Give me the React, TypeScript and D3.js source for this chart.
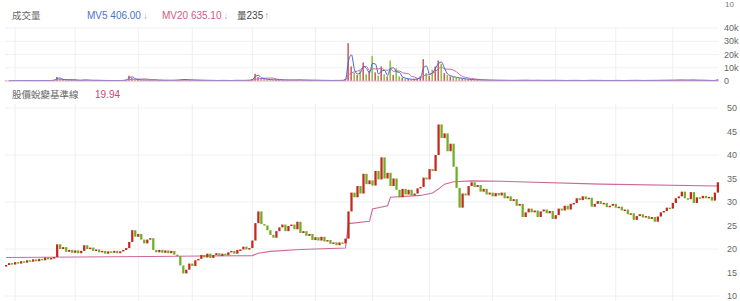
import React from "react";
import * as d3 from "d3";

const closes = [
  16.6, 17.0, 16.7, 17.2, 16.9, 17.4, 17.1, 17.6, 17.3, 17.8, 17.4, 17.9, 17.6, 18.2, 17.8, 18.1,
  18.3, 21.0, 20.0, 20.4, 19.4, 19.8, 19.2, 19.7, 19.1, 19.6, 20.8, 20.0, 20.3, 19.6,
  19.9, 19.3, 19.6, 19.0, 19.5, 19.2, 19.6, 19.1, 19.5, 19.8, 20.2, 21.5, 24.0, 22.6, 23.2, 22.0, 21.2, 22.0, 22.3, 19.8,
  19.3, 19.8, 19.2, 19.7, 19.1, 19.6, 18.8, 18.5, 16.5, 14.8, 15.6, 16.9, 16.4, 17.6, 17.9, 18.7, 18.2, 19.0, 18.1, 18.7,
  19.1, 18.5, 19.0, 18.7, 19.3, 19.6, 19.0, 19.8, 19.9, 20.5, 19.9, 20.2, 21.8, 25.5, 28.0, 25.3, 25.0, 24.0, 23.0, 22.4,
  23.8, 24.6, 25.2, 23.8, 24.9, 25.2, 24.2, 25.8, 23.4, 23.8, 22.8, 23.2, 21.9, 22.5, 21.8, 22.6, 21.6, 21.9, 21.1, 21.4,
  20.8, 21.4, 21.2, 22.2, 28.0, 32.0, 31.0, 33.4, 31.8, 36.0, 33.8, 34.6, 33.5, 36.6, 34.8, 39.5, 35.0, 36.2, 33.4, 35.0,
  32.6, 31.0, 32.8, 31.6, 32.6, 31.4, 31.8, 32.9, 33.2, 35.2, 34.8, 37.0, 36.6, 40.0, 46.5, 43.6, 44.6, 40.8, 42.4, 37.5,
  33.0, 28.8, 31.8, 31.4, 33.4, 34.2, 33.2, 33.6, 32.2, 32.8, 31.6, 32.0, 31.2, 31.9, 31.4, 32.0, 30.8, 31.2, 30.2, 30.6,
  29.2, 29.6, 26.8, 27.8, 28.6, 27.8, 28.2, 26.8, 28.0, 28.4, 27.6, 28.1, 26.4, 27.2, 28.6, 28.2, 29.2, 28.4, 29.6, 29.8,
  30.8, 30.4, 31.2, 30.6, 30.9, 29.0, 29.6, 30.2, 29.6, 29.8, 28.9, 29.2, 29.6, 28.8, 29.0, 28.2, 28.4, 27.4, 27.6, 26.2,
  27.0, 27.4, 26.7, 27.0, 26.4, 26.8, 25.8, 26.9, 27.8, 28.1, 28.8, 28.6, 29.8, 30.8, 31.2, 32.2, 30.8, 30.6, 32.1, 29.8,
  31.0, 30.8, 31.3, 30.8, 31.1, 30.3, 32.0, 34.2,
];

const volumes = [
  300, 250, 400, 350, 300, 450, 300, 350, 400, 300, 350, 300, 400, 350, 300, 450, 800, 3000, 1500, 900,
  700, 500, 600, 400, 500, 450, 900, 600, 500, 400, 450, 350, 400, 300, 350, 400, 300, 450, 350, 500,
  900, 4000, 2200, 1200, 900, 700, 800, 600, 700, 900, 600, 500, 450, 400, 500, 450, 600, 700, 900, 1200,
  900, 700, 600, 500, 450, 400, 500, 400, 450, 400, 350, 400, 450, 400, 350, 400, 450, 500, 400, 450,
  500, 600, 1500, 5500, 3000, 2000, 1500, 1200, 1000, 800, 900, 800, 700, 600, 650, 700, 600, 800, 700, 600,
  550, 500, 450, 500, 450, 400, 450, 400, 350, 400, 450, 400, 500, 1500, 28500, 11000, 6000, 4500, 8000, 14000,
  5000, 7500, 19000, 6500, 4000, 11000, 5000, 3500, 15500, 4500, 9500, 3500, 2500, 1800, 1500, 1200, 1400, 1800, 3500, 16500,
  6000, 4000, 8500, 11000, 15500, 13000, 6000, 4500, 3500, 3000, 2500, 2200, 1800, 1500, 1200, 1000, 900, 800, 700, 600,
  600, 500, 550, 500, 450, 500, 450, 400, 450, 400, 500, 450, 600, 500, 450, 400, 450, 500, 400, 450,
  400, 450, 500, 400, 450, 400, 350, 400, 450, 400, 450, 400, 350, 400, 450, 500, 400, 450, 400, 350,
  400, 350, 400, 450, 400, 350, 400, 450, 400, 500, 450, 400, 350, 400, 450, 400, 500, 450, 500, 550,
  500, 600, 550, 600, 700, 650, 600, 550, 700, 600, 500, 450, 500, 400, 350, 300, 450, 1200,
];

const baseIdx = [0, 48, 65, 82, 84, 88, 98, 113, 114, 121, 122, 127, 128, 138, 142, 144, 146, 149, 155, 165, 198, 237];
const baseVal = [18.2, 18.4, 18.5, 18.6, 19.1, 19.5, 19.9, 20.2, 25.4, 25.9, 28.5, 29.2, 31.0, 31.4, 31.9, 32.8, 33.8, 34.3, 34.5, 34.4, 33.8, 33.4];

// each candle here stands for about three trading days, so the 5-day and
// 20-day averages span 2 and 7 candles
const mv5Window = 2;
const mv20Window = 7;

const gridIdx = [3, 23, 44, 62, 82, 103, 122, 141, 162, 183, 203, 222];
const priceTicks = [50, 45, 40, 35, 30, 25, 20, 15, 10];
const priceGrid = [50, 40, 30, 20, 10];
const volTicks = [40000, 30000, 20000, 10000, 0];
const volTickLabels = ["40k", "30k", "20k", "10k", "0"];

const headerVolTitle = "成交量";
const mv5Label = "MV5 406.00";
const mv20Label = "MV20 635.10";
const baseTitle = "股價蛻變基準線";
const baseNow = "19.94";

const RED = "#c4281c";
const GREEN = "#6fae22";
const CJK = "'Noto Sans CJK TC', 'Noto Sans CJK SC', sans-serif";
const LAT = "'Liberation Sans', Arial, sans-serif";

export default function App() {
  const W = 740, H = 301;
  const idx = closes.map((_, i) => i);
  const x = d3.scaleBand<number>().domain(idx).range([5, 719]).paddingInner(0.25);
  const cx = (i: number) => (x(i) as number) + x.bandwidth() / 2;
  const yP = d3.scaleLinear().domain([10, 50]).range([296, 108]);
  const yV = d3.scaleLinear().domain([0, 40000]).range([81, 28]);

  const opens = closes.map((c, i) => (i === 0 ? c : closes[i - 1]));
  const ma = (n: number) =>
    volumes.map((_, i) => (i < n - 1 ? null : d3.mean(volumes.slice(i - n + 1, i + 1)) as number));
  const mv5 = ma(mv5Window);
  const mv20 = ma(mv20Window);
  const vline = d3
    .line<number | null>()
    .defined((d) => d != null)
    .x((_, i) => cx(i))
    .y((d) => yV(d as number))
    .curve(d3.curveMonotoneX);
  const baseLine = d3
    .line<number>()
    .x((d) => cx(d))
    .y((_, k) => yP(baseVal[k]));

  return (
    <svg width={W} height={H} style={{ position: "absolute", left: 0, top: 0, background: "#fff" }}>
      <text x={725} y={7} fontSize={8} fill="#777" fontFamily={LAT}>10</text>

      {/* headers */}
      <text x={12} y={19} fontSize={9.5} fill="#666" fontFamily={CJK}>{headerVolTitle}</text>
      <text x={87} y={18.5} fontSize={10} fill="#4a72c8" fontFamily={LAT}>
        {mv5Label}<tspan dx={2} fill="#9ab0e0">↓</tspan>
      </text>
      <text x={162} y={18.5} fontSize={10} fill="#cc5c86" fontFamily={LAT}>
        {mv20Label}<tspan dx={2} fill="#e0a0b8">↓</tspan>
      </text>
      <text x={237} y={18.5} fontSize={10} fill="#444" fontFamily={LAT}>
        <tspan fontFamily={CJK} fontSize={9.5}>量</tspan>235<tspan dx={1} fill="#999">↑</tspan>
      </text>
      <text x={12} y={98} fontSize={9.5} fill="#666" fontFamily={CJK}>{baseTitle}</text>
      <text x={95} y={98} fontSize={10} fill="#c8467a" fontFamily={LAT}>{baseNow}</text>

      {/* volume grid */}
      {volTicks.slice(0, 4).map((t) => (
        <line key={"vg" + t} x1={5} x2={719} y1={yV(t)} y2={yV(t)} stroke="#f0f0f0" />
      ))}
      {gridIdx.map((g) => (
        <line key={"vv" + g} x1={cx(g)} x2={cx(g)} y1={27} y2={81} stroke="#efefef" />
      ))}
      {volTicks.map((t, k) => (
        <text key={"vt" + t} x={724} y={yV(t)} dy="0.35em" fontSize={9} fill="#666" fontFamily={LAT}>
          {volTickLabels[k]}
        </text>
      ))}

      {/* price grid */}
      {priceGrid.map((t) => (
        <line key={"pg" + t} x1={5} x2={719} y1={yP(t)} y2={yP(t)} stroke="#f0f0f0" />
      ))}
      {gridIdx.map((g) => (
        <line key={"pv" + g} x1={cx(g)} x2={cx(g)} y1={104} y2={301} stroke="#efefef" />
      ))}
      {priceTicks.map((t) => (
        <text key={"pt" + t} x={727} y={yP(t)} dy="0.35em" fontSize={9} fill="#666" fontFamily={LAT}>
          {t}
        </text>
      ))}

      {/* volume bars */}
      {volumes.map((v, i) => {
        const up = closes[i] >= opens[i];
        const y0 = yV(v);
        return (
          <rect
            key={"vb" + i}
            x={x(i)}
            y={y0}
            width={Math.max(1, x.bandwidth() * 0.7)}
            height={Math.max(0.5, 81 - y0)}
            fill={up ? "#d06060" : "#8cc040"}
          />
        );
      })}
      <path d={vline(mv20) || ""} fill="none" stroke="#c86aa8" strokeWidth={1} />
      <path d={vline(mv5) || ""} fill="none" stroke="#4a64d0" strokeWidth={1} />
      <line x1={5} x2={719} y1={81} y2={81} stroke="#e4b0c8" />

      {/* baseline */}
      <path d={baseLine(baseIdx) || ""} fill="none" stroke="#cf6898" strokeWidth={1.1} />

      {/* candles */}
      {closes.map((c, i) => {
        const o = opens[i];
        const up = c >= o;
        const yTop = yP(Math.max(o, c));
        const yBot = yP(Math.min(o, c));
        return (
          <rect
            key={"c" + i}
            x={x(i)}
            y={yTop}
            width={x.bandwidth()}
            height={Math.max(1.5, yBot - yTop)}
            fill={up ? RED : GREEN}
          />
        );
      })}
    </svg>
  );
}
